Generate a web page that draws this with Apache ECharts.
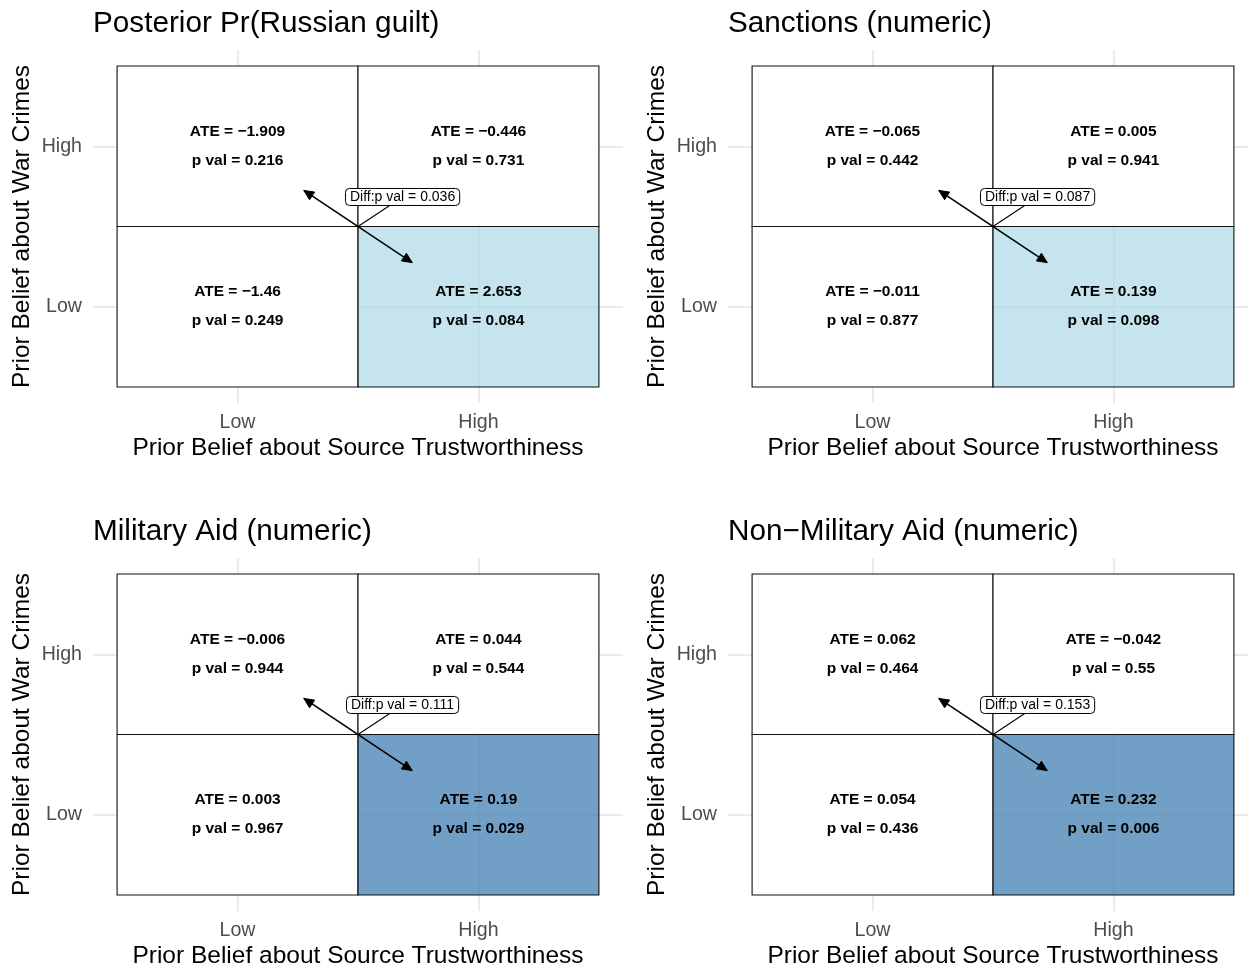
<!DOCTYPE html>
<html><head><meta charset="utf-8">
<script src="https://cdn.jsdelivr.net/npm/echarts@6.0.0/dist/echarts.min.js"></script>
<style>html,body{margin:0;padding:0;background:#fff}#chart{width:1248px;height:972px}</style>
</head><body><div id="chart"></div>
<script>
// ---------- data ----------
const sourceLevels = ['Low', 'High'];          // x categories
const crimeLevels = ['Low', 'High'];           // y categories
const panelTitles = ['Posterior Pr(Russian guilt)', 'Sanctions (numeric)', 'Military Aid (numeric)', 'Non\u2212Military Aid (numeric)'];
const xAxisTitle = 'Prior Belief about Source Trustworthiness';
const yAxisTitle = 'Prior Belief about War Crimes';
// cell order
const cellSource = ['Low', 'High', 'Low', 'High'];
const cellCrimes = ['High', 'High', 'Low', 'Low'];
const ateGuilt = [-1.909, -0.446, -1.46, 2.653];
const pGuilt = [0.216, 0.731, 0.249, 0.084];
const ateSanctions = [-0.065, 0.005, -0.011, 0.139];
const pSanctions = [0.442, 0.941, 0.877, 0.098];
const ateMilitary = [-0.006, 0.044, 0.003, 0.19];
const pMilitary = [0.944, 0.544, 0.967, 0.029];
const ateNonMilitary = [0.062, -0.042, 0.054, 0.232];
const pNonMilitary = [0.464, 0.55, 0.436, 0.006];
const diffP = [0.036, 0.087, 0.111, 0.153];
// annotation anchor points (data units: Low = 1, High = 2)
const pivotPoint = [1.5, 1.5];
const arrowEnds = [[1.275, 1.725], [1.725, 1.275]];
const diffLabelPoint = [1.685, 1.684];

// ---------- layout / style ----------
const FONT = '"Liberation Sans", Arial, Helvetica, sans-serif';
const panelAte = [ateGuilt, ateSanctions, ateMilitary, ateNonMilitary];
const panelP = [pGuilt, pSanctions, pMilitary, pNonMilitary];
const gridLeft = [93, 728, 93, 728];
const gridWidth = [530, 520, 530, 520];   // right panels are cut by the image edge
const gridTop = [50, 50, 558, 558];
const GH = 353;
const X_MIN = 0.4, X_SPAN = 2.2, FULL_W = 530;

function fmt(v) { return String(v).replace('-', '\u2212'); }
function fillFor(p) {
  if (p < 0.05) return 'rgba(70,130,180,0.77)';
  if (p < 0.1) return 'rgba(173,216,230,0.7)';
  return '#ffffff';
}
const measureCtx = document.createElement('canvas').getContext('2d');
function textWidth(t, font) { measureCtx.font = font; return measureCtx.measureText(t).width; }

const grids = [], xAxes = [], yAxes = [], series = [], titles = [];
for (let i = 0; i < 4; i++) {
  grids.push({ left: gridLeft[i], top: gridTop[i], width: gridWidth[i], height: GH, containLabel: false });
  titles.push({
    text: panelTitles[i], left: gridLeft[i], top: gridTop[i] - 41, padding: 0,
    textStyle: { fontFamily: FONT, fontSize: 29.7, fontWeight: 'normal', color: '#000' }
  });
  const xMax = X_MIN + X_SPAN * gridWidth[i] / FULL_W;
  xAxes.push({
    type: 'value', gridIndex: i, min: X_MIN, max: xMax,
    name: xAxisTitle, nameLocation: 'middle', nameGap: 33,
    nameTextStyle: { fontFamily: FONT, fontSize: 24.5, color: '#000', padding: [0, 0, 0, 530 - gridWidth[i]] },
    axisLine: { show: false },
    axisTick: { show: false, customValues: [1, 2] },
    axisLabel: { customValues: [1, 2], margin: 10, formatter: v => sourceLevels[Math.round(v) - 1], fontFamily: FONT, fontSize: 19.6, color: '#4D4D4D' },
    splitLine: { show: true, lineStyle: { color: '#EBEBEB', width: 2 } }
  });
  yAxes.push({
    type: 'value', gridIndex: i, min: 0.4, max: 2.6,
    name: yAxisTitle, nameLocation: 'middle', nameGap: 58,
    nameTextStyle: { fontFamily: FONT, fontSize: 24.5, color: '#000' },
    axisLine: { show: false },
    axisTick: { show: false, customValues: [1, 2] },
    axisLabel: { customValues: [1, 2], margin: 11, formatter: v => crimeLevels[Math.round(v) - 1], fontFamily: FONT, fontSize: 19.6, color: '#4D4D4D' },
    splitLine: { show: true, lineStyle: { color: '#EBEBEB', width: 2 } }
  });
  const ate = panelAte[i], pv = panelP[i];
  const cells = cellSource.map((s, k) => [sourceLevels.indexOf(s) + 1, crimeLevels.indexOf(cellCrimes[k]) + 1, ate[k], pv[k]]);
  series.push({
    type: 'custom', xAxisIndex: i, yAxisIndex: i, data: cells, clip: false, z: 2,
    renderItem: function (params, api) {
      const x = api.value(0), y = api.value(1), a = api.value(2), p = api.value(3);
      const p0 = api.coord([x - 0.5, y + 0.5]);
      const p1 = api.coord([x + 0.5, y - 0.5]);
      const c = api.coord([x, y]);
      const bold = 'bold 15.5px ' + FONT;
      return {
        type: 'group', children: [
          { type: 'rect', shape: { x: p0[0], y: p0[1], width: p1[0] - p0[0], height: p1[1] - p0[1] },
            style: { fill: fillFor(p), stroke: '#111', lineWidth: 1.1 } },
          { type: 'text', x: c[0], y: c[1] - 15, style: { text: 'ATE = ' + fmt(a), font: bold, fill: '#000', align: 'center', verticalAlign: 'middle' } },
          { type: 'text', x: c[0], y: c[1] + 14, style: { text: 'p val = ' + fmt(p), font: bold, fill: '#000', align: 'center', verticalAlign: 'middle' } }
        ]
      };
    }
  });
  series.push({
    type: 'custom', xAxisIndex: i, yAxisIndex: i, clip: false, z: 5,
    data: [[pivotPoint[0], pivotPoint[1], diffP[i]]],
    renderItem: function (params, api) {
      const P = api.coord([api.value(0), api.value(1)]);
      const A = api.coord(arrowEnds[0]);
      const B = api.coord(arrowEnds[1]);
      const C = api.coord(diffLabelPoint);
      const children = [];
      children.push({ type: 'line', shape: { x1: A[0], y1: A[1], x2: B[0], y2: B[1] }, style: { stroke: '#000', lineWidth: 1.6 } });
      function head(tip, from) {
        const dx = tip[0] - from[0], dy = tip[1] - from[1];
        const len = Math.hypot(dx, dy), ux = dx / len, uy = dy / len;
        const L = 10, W = 4.6;
        const bx = tip[0] - ux * L, by = tip[1] - uy * L;
        return { type: 'polygon', shape: { points: [tip, [bx - uy * W, by + ux * W], [bx + uy * W, by - ux * W]] }, style: { fill: '#000', stroke: '#000', lineWidth: 1 } };
      }
      children.push(head(A, B));
      children.push(head(B, A));
      const label = 'Diff:p val = ' + api.value(2);
      const f = '14px ' + FONT;
      const tw = textWidth(label, f);
      const hw = tw / 2 + 4.5, hh = 8.5;
      const dx = P[0] - C[0], dy = P[1] - C[1];
      const u = Math.min(hw / Math.abs(dx), hh / Math.abs(dy));
      const E = [C[0] + u * dx, C[1] + u * dy];
      children.push({ type: 'line', shape: { x1: P[0], y1: P[1], x2: E[0], y2: E[1] }, style: { stroke: '#000', lineWidth: 1.1 } });
      children.push({ type: 'rect', shape: { x: C[0] - hw, y: C[1] - hh, width: 2 * hw, height: 2 * hh, r: 4 }, style: { fill: '#fff', stroke: '#000', lineWidth: 1 } });
      children.push({ type: 'text', x: C[0], y: C[1] + 0.5, style: { text: label, font: f, fill: '#000', align: 'center', verticalAlign: 'middle' } });
      return { type: 'group', children: children };
    }
  });
}

const chart = echarts.init(document.getElementById('chart'), null, { renderer: 'canvas' });
chart.setOption({
  backgroundColor: '#fff',
  animation: false,
  title: titles,
  grid: grids,
  xAxis: xAxes,
  yAxis: yAxes,
  series: series
});
</script>
</body></html>
